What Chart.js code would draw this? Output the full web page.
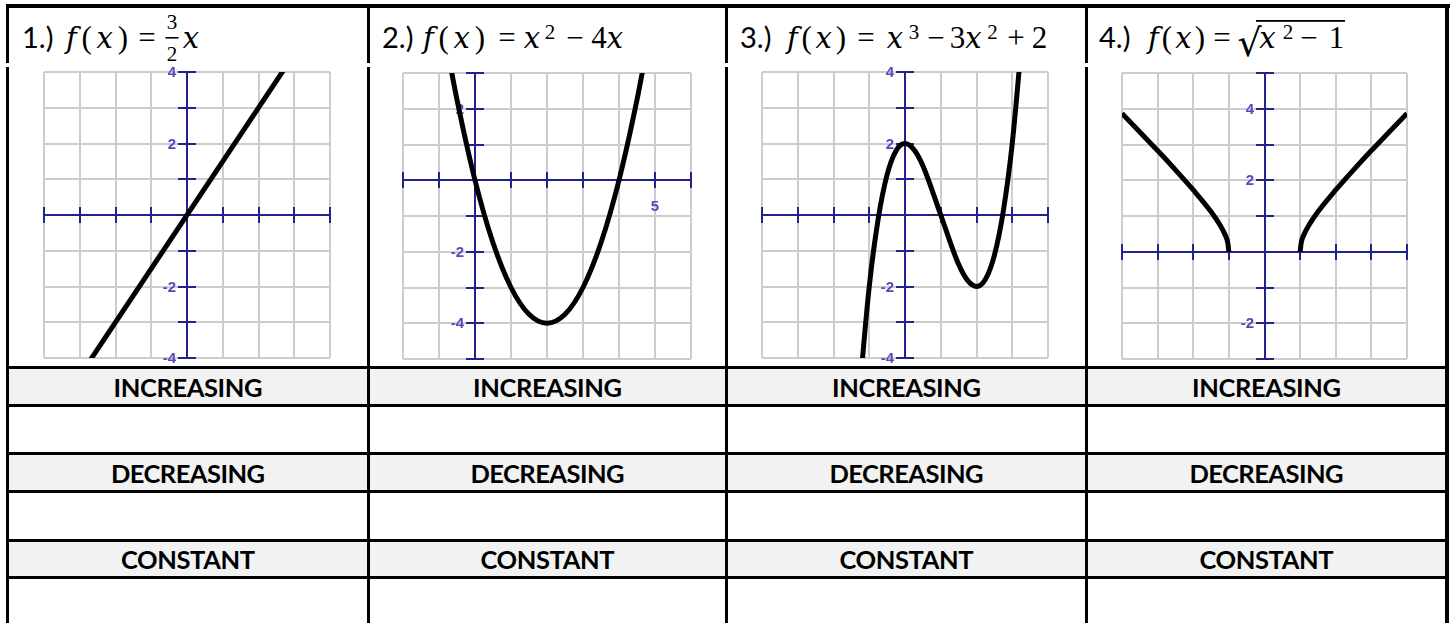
<!DOCTYPE html>
<html><head><meta charset="utf-8">
<script src="https://cdn.jsdelivr.net/npm/chart.js@4.4.0/dist/chart.umd.min.js"></script>
<style>
html,body{margin:0;padding:0;background:#fff;}
#page{position:relative;width:1450px;height:623px;overflow:hidden;background:#fff;}
#tbl{position:absolute;left:0;top:0;}
canvas{position:absolute;}
.lbl{font-family:Lato,"Open Sans",sans-serif;font-size:29px;fill:#000;}
.row{font-family:Lato,"Open Sans",sans-serif;font-weight:bold;font-size:25.5px;fill:#000;}
.u{font-family:"Liberation Serif",serif;font-size:31px;fill:#000;}
.mi{font-family:"DejaVu Serif",serif;font-style:italic;font-size:29px;fill:#000;}
.sup{font-family:"Liberation Serif",serif;font-size:21px;fill:#000;}
</style></head>
<body><div id="page">
<svg id="tbl" width="1450" height="623" xmlns="http://www.w3.org/2000/svg">
  <g id="bands" fill="#f2f2f2"></g>
  <g id="lines" fill="#000"></g>
  <!-- header 1 -->
  <text class="lbl" x="22" y="47.5">1.)</text>
  <text class="u" x="66" y="47.5" textLength="62" lengthAdjust="spacing"><tspan class="mi">f</tspan>(<tspan class="mi">x</tspan>)</text>
  <text class="u" x="147" y="47.5" text-anchor="middle">=</text>
  <text class="sup" x="172" y="29" text-anchor="middle">3</text>
  <rect x="165.5" y="37" width="13" height="1.6" fill="#000"/>
  <text class="sup" x="172" y="61" text-anchor="middle">2</text>
  <text class="mi" x="191" y="47.5" text-anchor="middle">x</text>
  <!-- header 2 -->
  <text class="lbl" x="382" y="47.5">2.)</text>
  <text class="u" x="423" y="47.5" textLength="62" lengthAdjust="spacing"><tspan class="mi">f</tspan>(<tspan class="mi">x</tspan>)</text>
  <text class="u" x="507" y="47.5" text-anchor="middle">=</text>
  <text class="mi" x="532" y="47.5" text-anchor="middle">x</text>
  <text class="sup" x="550" y="39" text-anchor="middle">2</text>
  <text class="u" x="575" y="47.5" text-anchor="middle">−</text>
  <text class="u" x="599" y="47.5" text-anchor="middle">4</text>
  <text class="mi" x="615" y="47.5" text-anchor="middle">x</text>
  <!-- header 3 -->
  <text class="lbl" x="740" y="47.5">3.)</text>
  <text class="u" x="787" y="47.5" textLength="59" lengthAdjust="spacing"><tspan class="mi">f</tspan>(<tspan class="mi">x</tspan>)</text>
  <text class="u" x="866" y="47.5" text-anchor="middle">=</text>
  <text class="mi" x="895" y="47.5" text-anchor="middle">x</text>
  <text class="sup" x="914" y="39" text-anchor="middle">3</text>
  <text class="u" x="936" y="47.5" text-anchor="middle">−</text>
  <text class="u" x="957.5" y="47.5" text-anchor="middle">3</text>
  <text class="mi" x="973.5" y="47.5" text-anchor="middle">x</text>
  <text class="sup" x="992.5" y="39" text-anchor="middle">2</text>
  <text class="u" x="1016" y="47.5" text-anchor="middle">+</text>
  <text class="u" x="1039.5" y="47.5" text-anchor="middle">2</text>
  <!-- header 4 -->
  <text class="lbl" x="1099" y="47.5">4.)</text>
  <text class="u" x="1148" y="47.5" textLength="57" lengthAdjust="spacing"><tspan class="mi">f</tspan>(<tspan class="mi">x</tspan>)</text>
  <text class="u" x="1222" y="47.5" text-anchor="middle">=</text>
  <text class="u" x="1249.5" y="56" text-anchor="middle" style="font-family:'DejaVu Serif',serif;font-size:38px">√</text>
  <rect x="1256" y="20" width="89" height="1.8" fill="#000"/>
  <text class="mi" x="1267.5" y="47.5" text-anchor="middle">x</text>
  <text class="sup" x="1288" y="39" text-anchor="middle">2</text>
  <text class="u" x="1309" y="47.5" text-anchor="middle">−</text>
  <text class="u" x="1336.5" y="47.5" text-anchor="middle">1</text>
  <g id="rowText"></g>
</svg>
<canvas id="c1"></canvas>
<canvas id="c2"></canvas>
<canvas id="c3"></canvas>
<canvas id="c4"></canvas>
</div>
<script>
// ---------- data ----------
const rowLabels = ['INCREASING', 'DECREASING', 'CONSTANT'];

// 1.) f(x) = 3/2 x
const g1X = [-3, 3];
const g1Y = [-4.5, 4.5];
const g1XRange = [-4, 4];
const g1YRange = [-4, 4];
const g1XLabels = [];
const g1YLabels = [4, 2, -2, -4];

// 2.) f(x) = x^2 - 4x
const g2X = [-0.8, -0.5, 0, 0.5, 1, 1.5, 2, 2.5, 3, 3.5, 4, 4.5, 4.8];
const g2Y = [3.84, 2.25, 0, -1.75, -3, -3.75, -4, -3.75, -3, -1.75, 0, 2.25, 3.84];
const g2XRange = [-2, 6];
const g2YRange = [-5, 3];
const g2XLabels = [5];
const g2YLabels = [2, -2, -4];

// 3.) f(x) = x^3 - 3x^2 + 2
const g3X = [-1.3, -1, -0.75, -0.5, -0.25, 0, 0.25, 0.5, 1, 1.5, 1.75, 2, 2.25, 2.5, 2.75, 3, 3.3];
const g3Y = [-5.27, -2, -0.11, 1.13, 1.8, 2, 1.83, 1.38, 0, -1.38, -1.83, -2, -1.8, -1.13, 0.11, 2, 5.27];
const g3XRange = [-4, 4];
const g3YRange = [-4, 4];
const g3XLabels = [];
const g3YLabels = [4, 2, -2, -4];

// 4.) f(x) = sqrt(x^2 - 1)
const g4LeftX = [-4, -3.5, -3, -2.5, -2, -1.5, -1.25, -1.1, -1.03, -1];
const g4LeftY = [3.87, 3.35, 2.83, 2.29, 1.73, 1.12, 0.75, 0.46, 0.25, 0];
const g4RightX = [1, 1.03, 1.1, 1.25, 1.5, 2, 2.5, 3, 3.5, 4];
const g4RightY = [0, 0.25, 0.46, 0.75, 1.12, 1.73, 2.29, 2.83, 3.35, 3.87];
const g4XRange = [-4, 4];
const g4YRange = [-3, 5];
const g4XLabels = [];
const g4YLabels = [4, 2, -2];

// ---------- table ----------
const SVGNS = 'http://www.w3.org/2000/svg';
function rect(parent, x, y, w, h) {
  const r = document.createElementNS(SVGNS, 'rect');
  r.setAttribute('x', x); r.setAttribute('y', y);
  r.setAttribute('width', w); r.setAttribute('height', h);
  parent.appendChild(r);
}
const colBounds = [[9, 367], [370, 725], [728, 1085], [1088, 1445]];
const bandTops = [369, 455, 542];
const bandHeights = [35, 35, 34];
const rowBaselines = [396.5, 482.5, 568.5];
const rowWidths = [149, 154, 134];
const bands = document.getElementById('bands');
bandTops.forEach((t, i) => rect(bands, 9, t, 1436, bandHeights[i]));
const lines = document.getElementById('lines');
rect(lines, 6, 4, 1444, 4);
[366, 404, 452, 490, 539, 576].forEach(y => rect(lines, 6, y, 1443, 3));
[6, 367, 725, 1085].forEach(x => { rect(lines, x, 4, 3, 59); rect(lines, x, 67, 3, 560); });
rect(lines, 1445, 4, 4, 623);
const rowText = document.getElementById('rowText');
colBounds.forEach(([l, r]) => {
  rowLabels.forEach((lab, i) => {
    const t = document.createElementNS(SVGNS, 'text');
    t.setAttribute('class', 'row');
    t.setAttribute('x', (l + r) / 2);
    t.setAttribute('y', rowBaselines[i]);
    t.setAttribute('text-anchor', 'middle');
    t.setAttribute('textLength', rowWidths[i]);
    t.setAttribute('lengthAdjust', 'spacing');
    t.textContent = lab;
    rowText.appendChild(t);
  });
});

// ---------- charts ----------
const crossAxes = {
  id: 'crossAxes',
  beforeDatasetsDraw(chart, args, opts) {
    const {ctx, chartArea: a} = chart;
    const xs = chart.scales.x, ys = chart.scales.y;
    const x0 = Math.round(xs.getPixelForValue(0));
    const y0 = Math.round(ys.getPixelForValue(0));
    ctx.save();
    ctx.strokeStyle = opts.color;
    ctx.lineWidth = 2;
    ctx.beginPath();
    ctx.moveTo(a.left, y0); ctx.lineTo(a.right, y0);
    ctx.moveTo(x0, a.top); ctx.lineTo(x0, a.bottom);
    xs.ticks.forEach(t => {
      if (t.value === 0) return;
      const px = Math.round(xs.getPixelForValue(t.value));
      ctx.moveTo(px, y0 - 8); ctx.lineTo(px, y0 + 8);
    });
    ys.ticks.forEach(t => {
      if (t.value === 0) return;
      const py = Math.round(ys.getPixelForValue(t.value));
      ctx.moveTo(x0 - 9, py); ctx.lineTo(x0 + 9, py);
    });
    ctx.stroke();
    ctx.fillStyle = opts.labelColor;
    ctx.font = 'bold 15px "Liberation Sans", Arial, sans-serif';
    ctx.textAlign = 'right';
    ctx.textBaseline = 'middle';
    opts.yLabels.forEach(v => ctx.fillText(String(v), x0 - 11, ys.getPixelForValue(v) + 1));
    ctx.textAlign = 'center';
    ctx.textBaseline = 'top';
    opts.xLabels.forEach(v => ctx.fillText(String(v), xs.getPixelForValue(v), y0 + 19));
    ctx.restore();
  }
};

function pts(xs, ys) { return xs.map((x, i) => ({x: x, y: ys[i]})); }

function makeChart(id, box, xr, yr, series, xLabels, yLabels) {
  const pad = 10;
  const c = document.getElementById(id);
  c.width = box.w + 2 * pad;
  c.height = box.h + 2 * pad;
  c.style.left = (box.l - pad) + 'px';
  c.style.top = (box.t - pad) + 'px';
  const gridOpts = {color: '#cdcdcd', lineWidth: 2, drawTicks: false};
  new Chart(c, {
    type: 'scatter',
    data: {
      datasets: series.map(d => ({
        data: d, showLine: true, borderColor: '#000', backgroundColor: '#000',
        borderWidth: 5, pointRadius: 0, pointHoverRadius: 0,
        cubicInterpolationMode: 'monotone', clip: 0, fill: false
      }))
    },
    options: {
      responsive: false, animation: false, events: [],
      layout: {padding: pad},
      plugins: {
        legend: {display: false}, tooltip: {enabled: false},
        crossAxes: {color: '#22228e', labelColor: '#5a46bc', xLabels: xLabels, yLabels: yLabels}
      },
      scales: {
        x: {type: 'linear', min: xr[0], max: xr[1], ticks: {display: false, stepSize: 1}, grid: gridOpts, border: {display: false}},
        y: {type: 'linear', min: yr[0], max: yr[1], ticks: {display: false, stepSize: 1}, grid: gridOpts, border: {display: false}}
      }
    },
    plugins: [crossAxes]
  });
}

makeChart('c1', {l: 44, t: 72, w: 286, h: 286}, g1XRange, g1YRange, [pts(g1X, g1Y)], g1XLabels, g1YLabels);
makeChart('c2', {l: 403, t: 73, w: 288, h: 286}, g2XRange, g2YRange, [pts(g2X, g2Y)], g2XLabels, g2YLabels);
makeChart('c3', {l: 762, t: 72, w: 286, h: 286}, g3XRange, g3YRange, [pts(g3X, g3Y)], g3XLabels, g3YLabels);
makeChart('c4', {l: 1122, t: 73, w: 285, h: 286}, g4XRange, g4YRange, [pts(g4LeftX, g4LeftY), pts(g4RightX, g4RightY)], g4XLabels, g4YLabels);
</script>
</body></html>
